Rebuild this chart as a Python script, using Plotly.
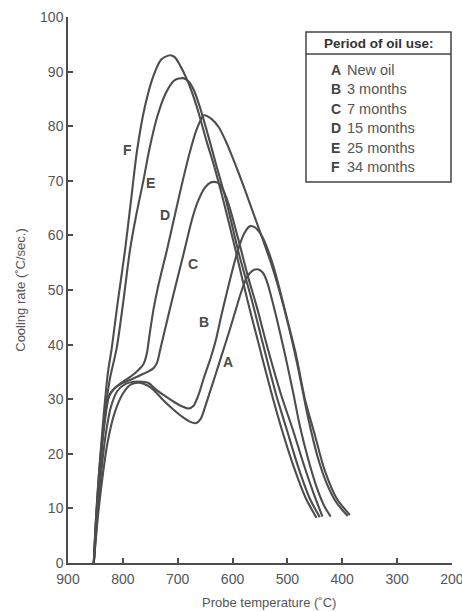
import plotly.graph_objects as go

# ---- data (probe temperature °C, cooling rate °C/sec) ----
temp_A = [853, 846, 838, 828, 815, 800, 785, 770, 755, 745, 728, 710, 692, 678, 667, 658, 650, 640, 630, 619, 606, 594, 583, 574, 564, 554, 545, 537, 530, 520, 505, 490, 477, 462, 447, 433, 421]
rate_A = [0, 8, 15, 22, 27.5, 31, 32.7, 33, 32.5, 31.8, 30, 28.3, 26.8, 25.9, 25.6, 26.4, 28.6, 31.7, 34.8, 38.3, 42.4, 46.4, 50, 52.3, 53.5, 53.8, 53.2, 51.5, 49, 45, 38.5, 31.5, 25, 19, 14, 10.5, 8.5]

temp_B = [853, 847, 840, 832, 822, 810, 795, 780, 765, 754, 740, 722, 705, 690, 680, 671, 662, 652, 640, 630, 620, 608, 598, 588, 578, 568, 558, 546, 536, 526, 515, 500, 485, 468, 450, 432, 410, 386]
rate_B = [0, 8, 16, 23, 28.5, 31.5, 32.8, 33.2, 33.2, 33, 31.8, 30.5, 29.4, 28.6, 28.3, 28.8, 30.8, 34, 37.5, 41, 45.5, 50.5, 54.5, 58, 60.5, 61.7, 61.4, 59.8, 57.5, 54.5, 50.5, 44.5, 38.5, 30, 23.5, 17, 11.8, 8.8]

temp_C = [853, 848, 842, 834, 825, 815, 800, 785, 770, 755, 745, 738, 732, 725, 715, 702, 690, 680, 672, 662, 650, 640, 634, 626, 618, 608, 590, 572, 556, 535, 512, 490, 470, 453, 436]
rate_C = [0, 8, 17, 25, 30.5, 32, 33, 33.6, 34.3, 35, 35.6, 36.6, 39, 42, 46.2, 51.5, 56.3, 60.5, 63.6, 66.5, 68.8, 69.7, 69.8, 69.6, 68.5, 66, 59.5, 52.5, 47, 39, 31, 24.4, 18, 13, 8.5]

temp_D = [853, 849, 843, 835, 826, 815, 800, 785, 772, 762, 756, 751, 744, 736, 727, 718, 705, 692, 678, 665, 652, 638, 625, 612, 600, 588, 575, 560, 545, 530, 515, 498, 480, 462, 445, 428, 410, 390]
rate_D = [0, 8, 17, 25, 30.5, 32, 33.2, 34.2, 35.3, 36.5, 38.5, 42, 46.5, 50.5, 54.3, 58, 63.8, 69.5, 75.2, 79.5, 82, 81.3, 79.8, 77.2, 74.3, 71.2, 67.7, 63.5, 59.3, 55, 50, 43.5, 35.5, 26.5, 19.5, 14.5, 11, 8.6]

temp_E = [853, 848, 841, 833, 824, 811, 799, 787, 775, 763, 752, 738, 722, 706, 690, 680, 670, 658, 645, 630, 612, 588, 565, 543, 521, 501, 480, 460, 441]
rate_E = [0, 9, 18, 27, 33.5, 39.5, 48, 57.3, 64, 69.8, 75.6, 81.5, 86, 88.4, 88.8, 88.2, 86.5, 83, 78.5, 73, 66.5, 56.5, 48.2, 39.5, 31, 24.4, 17.5, 12, 8.4]

temp_F = [853, 849, 843, 835, 827, 820, 809, 796, 785, 774, 760, 745, 730, 714, 705, 695, 685, 675, 662, 648, 633, 617, 595, 573, 552, 530, 510, 488, 467, 447]
rate_F = [0, 8, 17, 27, 35, 39.5, 48, 57.3, 66.5, 75.6, 83.5, 89, 92.2, 93, 92.6, 91, 89, 86.5, 82.5, 77.5, 72.5, 66.5, 57.5, 48.2, 40, 31.5, 24.4, 17.5, 12, 8.3]

curve_names = ["A", "B", "C", "D", "E", "F"]
curve_temps = [temp_A, temp_B, temp_C, temp_D, temp_E, temp_F]
curve_rates = [rate_A, rate_B, rate_C, rate_D, rate_E, rate_F]

# curve letter label positions (temperature, rate)
label_temp = [608, 652, 672, 724, 750, 792]
label_rate = [36.8, 44.1, 54.8, 63.7, 69.6, 75.6]

x_ticks = [900, 800, 700, 600, 500, 400, 300, 200]
y_ticks = [0, 10, 20, 30, 40, 50, 60, 70, 80, 90, 100]

legend_title = "Period of oil use:"
legend_letters = ["A", "B", "C", "D", "E", "F"]
legend_periods = ["New oil", "3 months", "7 months", "15 months", "25 months", "34 months"]

x_title = "Probe temperature (\u02daC)"
y_title = "Cooling rate (\u02daC/sec.)"

LINE = "#4d4d4d"
TXT = "#555555"
FONT = "Liberation Sans, Arial, sans-serif"

fig = go.Figure()
for name, t, r in zip(curve_names, curve_temps, curve_rates):
    fig.add_trace(go.Scatter(x=t, y=r, mode="lines", name=name,
                             line=dict(color=LINE, width=2.1, shape="spline", smoothing=0.8),
                             hoverinfo="skip", showlegend=False))

for name, t, r in zip(curve_names, label_temp, label_rate):
    fig.add_annotation(x=t, y=r, xref="x", yref="y", text="<b>%s</b>" % name,
                       xanchor="center", yanchor="middle",
                       showarrow=False, font=dict(family=FONT, size=14, color="#4a4a4a"))

# legend box (paper coordinates)
W, H = 384.0, 546.0
L, T = 68.0, 17.0
def px(x):
    return (x - L) / W
def py(y):
    return (T + H - y) / H

fig.add_shape(type="rect", xref="paper", yref="paper",
              x0=px(306), x1=px(451), y0=py(182), y1=py(32),
              line=dict(color="#444444", width=1.5), fillcolor="white", layer="above")
fig.add_shape(type="line", xref="paper", yref="paper",
              x0=px(306), x1=px(451), y0=py(54), y1=py(54),
              line=dict(color="#444444", width=1.5), layer="above")
fig.add_annotation(xref="paper", yref="paper", x=px(379), y=py(43),
                   xanchor="center", yanchor="middle",
                   text="<b>%s</b>" % legend_title, showarrow=False,
                   font=dict(family=FONT, size=13.5, color="#333333"))
for i, (let, per) in enumerate(zip(legend_letters, legend_periods)):
    yy = py(70 + i * 19.4)
    fig.add_annotation(xref="paper", yref="paper", x=px(329), y=yy,
                       xanchor="left", yanchor="middle",
                       text="<b>%s</b>" % let, showarrow=False,
                       font=dict(family=FONT, size=14, color="#444444"))
    fig.add_annotation(xref="paper", yref="paper", x=px(345), y=yy,
                       xanchor="left", yanchor="middle",
                       text=per, showarrow=False,
                       font=dict(family=FONT, size=14.5, color="#555555"))

# x-axis title placed as text below the axis, slightly right of centre as in the source
fig.add_annotation(xref="paper", yref="paper", x=px(269), y=py(602),
                   xanchor="center", yanchor="middle", text=x_title, showarrow=False,
                   font=dict(family=FONT, size=13, color=TXT))

fig.update_layout(
    width=462, height=612,
    margin=dict(l=68, r=10, t=17, b=49, pad=0, autoexpand=False),
    paper_bgcolor="white", plot_bgcolor="white",
    font=dict(family=FONT, size=13, color=TXT),
    xaxis=dict(range=[900, 199.8], tickvals=x_ticks, ticks="inside", ticklen=5,
               tickcolor=LINE, tickwidth=1.5, showline=True, linecolor=LINE, linewidth=1.5,
               showgrid=False, zeroline=False, tickfont=dict(size=14, color=TXT),
               ticklabeloverflow="allow", automargin=False, ticklabelstandoff=2),
    yaxis=dict(range=[0, 100], tickvals=y_ticks, ticks="inside", ticklen=5,
               tickcolor=LINE, tickwidth=1.5, showline=True, linecolor=LINE, linewidth=1.5,
               showgrid=False, zeroline=False, tickfont=dict(size=14, color=TXT),
               automargin=False,
               title=dict(text=y_title, font=dict(size=13, color=TXT), standoff=12)),
)

fig.write_html("out.html", config={"displayModeBar": False})
